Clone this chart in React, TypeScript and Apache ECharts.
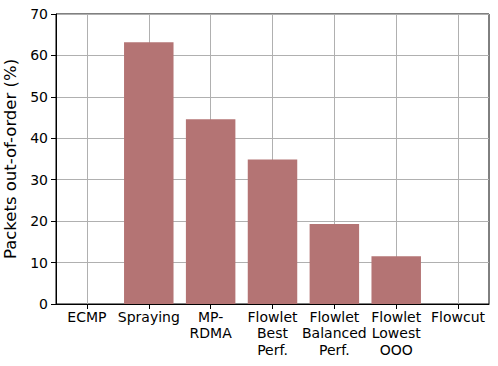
import React, { useEffect, useRef } from "react";
import * as echarts from "echarts";

const categories = [
  "ECMP",
  "Spraying",
  "MP-\nRDMA",
  "Flowlet\nBest\nPerf.",
  "Flowlet\nBalanced\nPerf.",
  "Flowlet\nLowest\nOOO",
  "Flowcut",
];
const outOfOrder = [0, 63.2, 44.6, 34.9, 19.3, 11.5, 0];
const yTicks = { min: 0, max: 70, interval: 10 };

export default function App() {
  const ref = useRef<HTMLDivElement>(null);
  useEffect(() => {
    if (!ref.current) return;
    const chart = echarts.init(ref.current, null, { renderer: "svg" });
    const font = "DejaVu Sans";
    chart.setOption({
      animation: false,
      backgroundColor: "#ffffff",
      textStyle: { fontFamily: font, color: "#000" },
      grid: {
        left: 56,
        right: 9,
        top: 14,
        bottom: 62,
        containLabel: false,
        outerBoundsMode: "none",
        show: true,
        borderColor: "#000",
        borderWidth: 1,
        backgroundColor: "transparent",
      },
      xAxis: {
        type: "category",
        data: categories,
        boundaryGap: true,
        axisLine: { show: true, lineStyle: { color: "#000", width: 1 } },
        axisTick: { show: true, alignWithLabel: true, length: 5, lineStyle: { color: "#000" } },
        axisLabel: {
          interval: 0,
          color: "#000",
          fontFamily: font,
          fontSize: 14,
          lineHeight: 16.3,
          margin: 5,
        },
        splitLine: { show: false },
      },
      yAxis: {
        type: "value",
        min: yTicks.min,
        max: yTicks.max,
        interval: yTicks.interval,
        name: "Packets out-of-order (%)",
        nameLocation: "middle",
        nameGap: 29,
        nameTextStyle: { fontFamily: font, fontSize: 16.5, color: "#000" },
        axisLine: { show: true, lineStyle: { color: "#000", width: 1 } },
        axisTick: { show: true, length: 5, lineStyle: { color: "#000" } },
        axisLabel: { color: "#000", fontFamily: font, fontSize: 14, margin: 8 },
        splitLine: { show: true, lineStyle: { color: "#b0b0b0", width: 1 } },
      },
      series: [
        {
          type: "bar",
          name: "grid",
          data: categories.map(() => "-"),
          z: 0,
          silent: true,
          markLine: {
            z: 0,
            silent: true,
            symbol: ["none", "none"],
            label: { show: false },
            lineStyle: { color: "#b0b0b0", width: 1, type: "solid" },
            data: categories.map((c) => ({ xAxis: c })),
          },
          barGap: "-100%",
          barWidth: "80%",
        },
        {
          type: "bar",
          name: "Packets out-of-order",
          data: outOfOrder,
          barWidth: "80%",
          z: 3,
          itemStyle: { color: "#b47474" },
        },
      ],
    });
    return () => chart.dispose();
  }, []);
  return (
    <div
      ref={ref}
      style={{ position: "fixed", left: 0, top: 0, width: 498, height: 366 }}
    />
  );
}
